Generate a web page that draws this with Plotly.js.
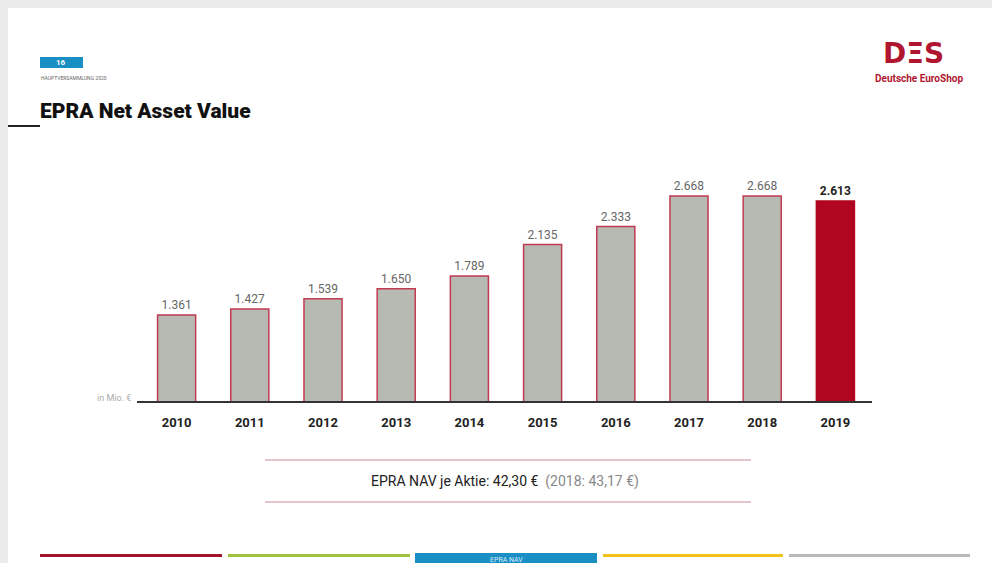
<!DOCTYPE html>
<html>
<head>
<meta charset="utf-8">
<script src="https://cdn.plot.ly/plotly-3.0.1.min.js"></script>
<style>
  html, body { margin: 0; padding: 0; background: #ebebeb; }
  #chart { width: 992px; height: 563px; }
</style>
</head>
<body>
<div id="chart"></div>
<script>
const years = ["2010", "2011", "2012", "2013", "2014", "2015", "2016", "2017", "2018", "2019"];
const navValues = [1361, 1427, 1539, 1650, 1789, 2135, 2333, 2668, 2668, 2613];
const navLabels = ["1.361", "1.427", "1.539", "1.650", "1.789", "2.135", "2.333", "2.668", "2.668", "2.613"];
const highlightYear = "2019";
const navPerShareText = "EPRA NAV je Aktie: 42,30 €";
const navPerSharePrev = "(2018: 43,17 €)";
const unitLabel = "in Mio. €";
const pageNumber = "16";
const eventLabel = "HAUPTVERSAMMLUNG 2020";
const chartTitle = "EPRA Net Asset Value";
const footerTabs = ["", "", "EPRA NAV", "", ""];
const footerColors = ["#a3132a", "#9fc13c", "#1a8fc4", "#f2c21b", "#b9b9b9"];

const W = 992, H = 563;
const px = v => v / W, py = v => 1 - v / H;

const fills = years.map(y => y === highlightYear ? "#b0061f" : "#b6bab2");
const lines = years.map(y => y === highlightYear ? "#b0061f" : "#c23a52");
const textColors = years.map(y => y === highlightYear ? "#222222" : "#666666");
const texts = navLabels.map((t, i) => years[i] === highlightYear ? "<b>" + t + "</b>" : t);

const trace = {
  type: "bar",
  x: years,
  y: navValues,
  text: texts,
  textposition: "outside",
  cliponaxis: false,
  textfont: { family: "Roboto, 'DejaVu Sans', sans-serif", size: 12, color: textColors },
  marker: { color: fills, line: { color: lines, width: 1.5 } },
  hoverinfo: "skip"
};

const shapes = [
  { type: "rect", xref: "paper", yref: "paper", x0: px(8), x1: 1, y0: 0, y1: py(8), fillcolor: "#ffffff", line: { width: 0 }, layer: "below" },
  { type: "rect", xref: "paper", yref: "paper", x0: px(40), x1: px(83), y0: py(68), y1: py(57), fillcolor: "#1a8fc4", line: { width: 0 } },
  { type: "line", xref: "paper", yref: "paper", x0: px(8), x1: px(40), y0: py(126), y1: py(126), line: { color: "#222", width: 2 } },
  { type: "line", xref: "paper", yref: "paper", x0: px(265), x1: px(751), y0: py(460), y1: py(460), line: { color: "#c98a94", width: 1 } },
  { type: "line", xref: "paper", yref: "paper", x0: px(265), x1: px(751), y0: py(502), y1: py(502), line: { color: "#c98a94", width: 1 } },
  { type: "line", xref: "paper", yref: "paper", x0: px(137), x1: px(872), y0: py(402), y1: py(402), line: { color: "#333", width: 2 } }
];

const footerX = [[40, 222], [228, 410], [415, 597], [603, 783], [789, 970]];
footerX.forEach((r, i) => {
  if (footerTabs[i]) {
    shapes.push({ type: "rect", xref: "paper", yref: "paper", x0: px(r[0]), x1: px(r[1]), y0: 0, y1: py(553), fillcolor: footerColors[i], line: { width: 0 } });
  } else {
    shapes.push({ type: "line", xref: "paper", yref: "paper", x0: px(r[0]), x1: px(r[1]), y0: py(555.5), y1: py(555.5), line: { color: footerColors[i], width: 3 } });
  }
});

const A = (text, x, y, xanchor, size, color, family, weight) => ({
  text, xref: "paper", yref: "paper", x: px(x), y: py(y), xanchor, yanchor: "middle",
  showarrow: false, font: { family: family || "Roboto, 'DejaVu Sans', sans-serif", size, color, weight: weight || "normal" }
});

const annotations = [
  A("<b>" + pageNumber + "</b>", 61, 62.5, "center", 8, "#ffffff"),
  A(eventLabel, 39, 78, "left", 5, "#666666"),
  A(chartTitle, 38, 111, "left", 21, "#111111", "Roboto, 'DejaVu Sans', sans-serif", 900),
  A("<b>DΞS</b>", 913, 54, "center", 28, "#b0162f", "'DejaVu Sans', sans-serif"),
  A("<b>Deutsche EuroShop</b>", 919, 79, "center", 10, "#b0162f"),
  A(unitLabel, 133, 398, "right", 9, "#aaaaaa"),
  A(navPerShareText + "  <span style='color:#888'>" + navPerSharePrev + "</span>", 505, 481, "center", 14, "#222222"),
  A(footerTabs[2], 506, 560, "center", 7, "#d6ecf7")
];

const layout = {
  width: W, height: H,
  margin: { l: 0, r: 0, t: 0, b: 0 },
  paper_bgcolor: "#ebebeb",
  plot_bgcolor: "rgba(0,0,0,0)",
  showlegend: false,
  bargap: 0.48,
  xaxis: {
    domain: [px(140), px(872)],
    type: "category",
    showline: false, showgrid: false, zeroline: false,
    ticks: "outside", ticklen: 8, tickcolor: "rgba(0,0,0,0)",
    tickfont: { family: "Roboto, 'DejaVu Sans', sans-serif", size: 13, color: "#222", weight: "bold" },
    anchor: "y"
  },
  yaxis: {
    domain: [py(402), py(150)],
    range: [405, 3174],
    visible: false,
    showgrid: false, zeroline: false
  },
  shapes: shapes,
  annotations: annotations
};

Plotly.newPlot("chart", [trace], layout, { displayModeBar: false, staticPlot: true });
</script>
</body>
</html>
